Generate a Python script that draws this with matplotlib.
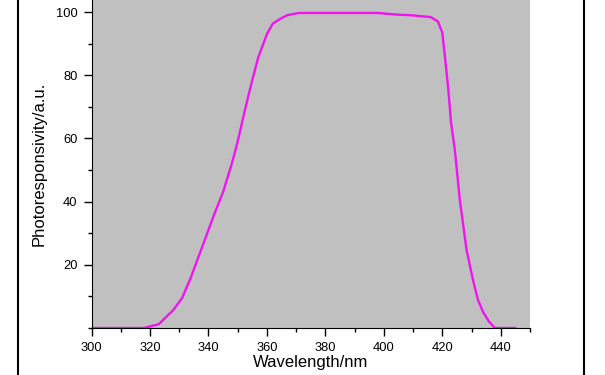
import matplotlib
matplotlib.use('Agg')
import matplotlib.pyplot as plt
from matplotlib.lines import Line2D
from matplotlib.ticker import MultipleLocator

plt.rcParams['font.family'] = ['Liberation Sans', 'DejaVu Sans']

# wavelength (nm) and photoresponsivity (a.u.)
wavelength = [300, 318, 320, 323, 328, 331, 334, 338, 342, 345, 348, 350,
              352.5, 355, 357, 360, 362, 364.5, 367, 371, 398, 404, 409,
              416, 418.5, 420, 421, 422, 423, 424.3, 426, 428.3, 430.5,
              432.2, 434, 436, 438, 445]
response = [0, 0, 0.5, 1.2, 5.7, 9.5, 16, 26, 36, 43, 52, 59,
            69, 78.5, 85.5, 93, 96.3, 97.8, 99, 99.7, 99.7, 99.2, 99,
            98.4, 97, 93.5, 85, 76, 65, 56.3, 40.5, 24.7, 15.2,
            8.9, 5, 2, 0, 0]

fig = plt.figure(figsize=(6.05, 3.75), dpi=100)
ax = fig.add_axes([91.5 / 605, 47 / 375, (530 - 91.5) / 605, 328 / 375])
ax.set_facecolor('#c0c0c0')
ax.plot(wavelength, response, color='#f014f0', linewidth=1.7)

ax.set_xlim(300, 450)
ax.set_ylim(0, 103.8)
ax.xaxis.set_major_locator(MultipleLocator(20))
ax.xaxis.set_minor_locator(MultipleLocator(10))
ax.set_yticks([20, 40, 60, 80, 100])
ax.yaxis.set_minor_locator(MultipleLocator(10))
ax.tick_params(which='major', direction='out', length=6, width=1, labelsize=9.3, pad=4)
ax.tick_params(which='minor', direction='out', length=3, width=1)

ax.spines['top'].set_visible(False)
ax.spines['right'].set_visible(False)

ax.set_xlabel('Wavelength/nm', fontsize=12, labelpad=1)
ax.set_ylabel('Photoresponsivity/a.u.', fontsize=12, labelpad=7)

# page border lines
fig.add_artist(Line2D([18 / 605, 18 / 605], [0, 1], color='black', linewidth=1.5))
fig.add_artist(Line2D([584 / 605, 584 / 605], [0, 1], color='black', linewidth=1.5))

fig.savefig('out.png', dpi=100)
